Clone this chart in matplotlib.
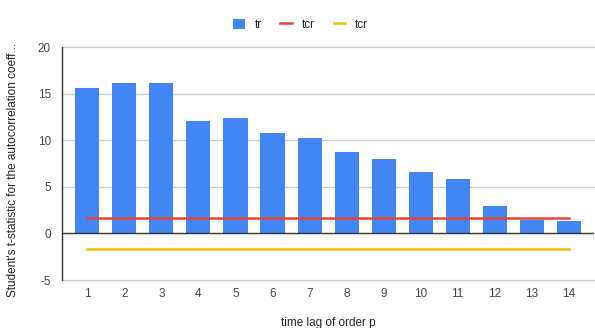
import matplotlib.pyplot as plt

plt.rcParams['font.family'] = ['Liberation Sans', 'DejaVu Sans']
plt.rcParams['axes.unicode_minus'] = False

# t-statistics of autocorrelation coefficients by lag
lags = list(range(1, 15))
tr = [15.6, 16.2, 16.2, 12.1, 12.4, 10.8, 10.3, 8.8, 8.0, 6.6, 5.9, 2.9, 1.45, 1.35]
tcr_upper = 1.65
tcr_lower = -1.68

BLUE = '#4285F4'
RED = '#EA4335'
YELLOW = '#FBBC04'

fig = plt.figure(figsize=(5.95, 3.28), dpi=100)
ax = fig.add_axes([0.1042, 0.1463, 0.894, 0.7095])

bars = ax.bar(lags, tr, width=0.65, color=BLUE, label='tr', zorder=3)
l1, = ax.plot(lags, [tcr_upper] * len(lags), color=RED, lw=1.8, label='tcr', zorder=4)
l2, = ax.plot(lags, [tcr_lower] * len(lags), color=YELLOW, lw=1.8, label='tcr', zorder=4)

ax.set_xlim(0.315, 14.68)
ax.set_ylim(-5, 20)
ax.set_yticks([-5, 0, 5, 10, 15, 20])
ax.set_xticks(lags)
ax.grid(False)
for yv in [-5, 5, 10, 15, 20]:
    ax.axhline(yv, color='#cccccc', lw=0.9, zorder=0, clip_on=False)
ax.axhline(0, color='#333333', lw=1.0, zorder=5)

for s in ['top', 'right', 'bottom']:
    ax.spines[s].set_visible(False)
ax.spines['left'].set_color('#333333')
ax.spines['left'].set_linewidth(1.0)

ax.tick_params(axis='both', length=0, labelsize=8.5, labelcolor='#444444')
ax.tick_params(axis='x', pad=6)
ax.tick_params(axis='y', pad=8)

ax.set_xlabel('time lag of order p', fontsize=8.5, color='#222222', labelpad=12)
fig.text(0.022, 0.482, "Student's t-statistic for the autocorrelation coeff...",
         rotation=90, ha='center', va='center', fontsize=8.5, color='#222222')

leg = fig.legend([bars, l1, l2], ['tr', 'tcr', 'tcr'],
                 loc='upper center', bbox_to_anchor=(0.505, 0.975), ncol=3,
                 frameon=False, fontsize=8.5, handlelength=1.0, handleheight=0.9,
                 columnspacing=1.6, handletextpad=0.8)
for t in leg.get_texts():
    t.set_color('#222222')

fig.savefig('out.png', dpi=100)
